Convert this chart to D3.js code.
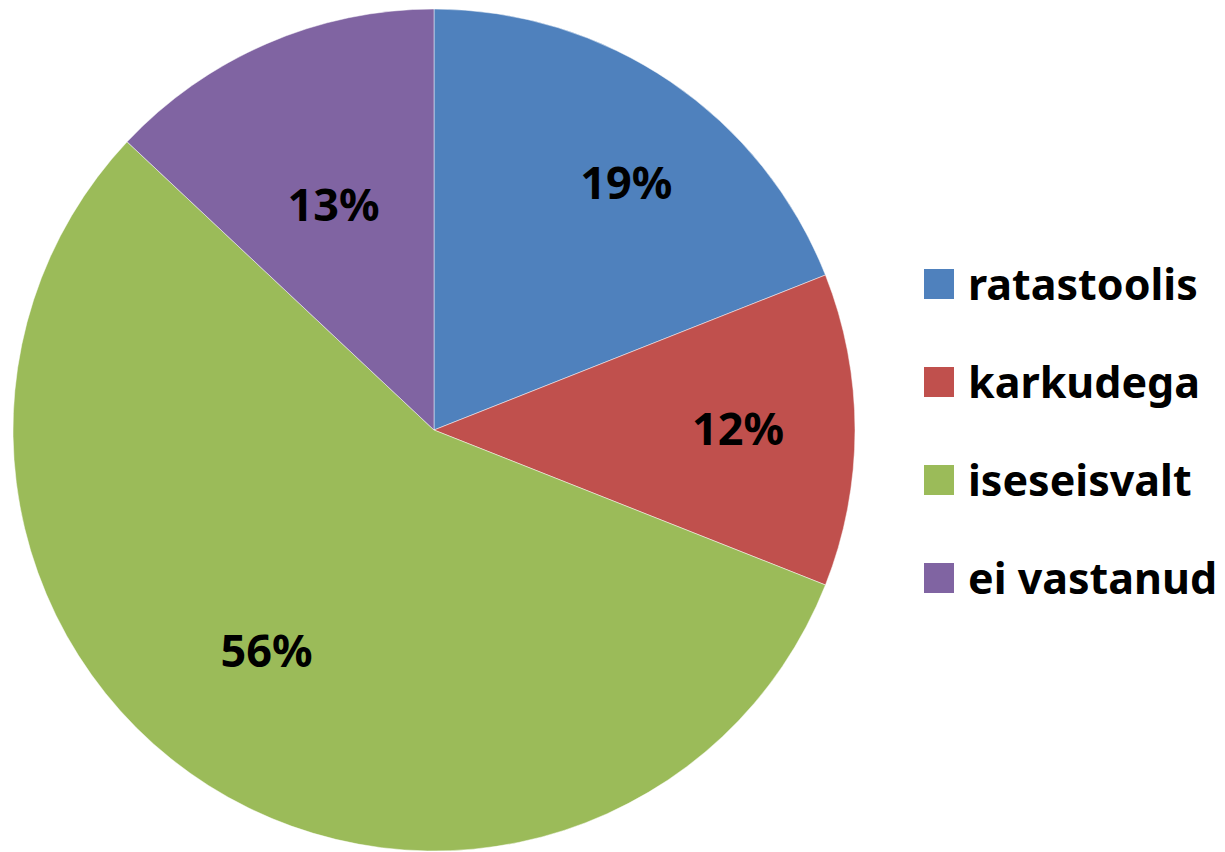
<!DOCTYPE html>
<html lang="et">
<head>
    <meta charset="UTF-8">
    <script src="https://d3js.org/d3.v7.min.js"></script>
    <style>
        body{ margin:0; background:#fff; }
        text{ font-family:"Noto Sans", sans-serif; font-weight:bold; fill:#000; }
    </style>
    <title>Pie</title>
</head>
<body>
    <div class="canvas"></div>
<script>
    // data
    const categories = ['ratastoolis','karkudega','iseseisvalt','ei vastanud'];
    const values = [19, 12, 56, 13];
    const colors = ['#4F81BD','#C0504D','#9BBB59','#8064A2'];

    const width = 1225;
    const height = 852;
    const [cx, cy, R] = [434, 430, 421];
    const fontSize = 45;
    const legendFont = 43;
    // excel "best fit" nudges from the plain centroid
    const labelNudge = [[22,3],[1,-1],[-5,-35],[20,53]];

    const svg = d3.select('.canvas')
                    .append('svg')
                    .attr('width',width)
                    .attr('height',height);

    const rows = categories.map((c,i)=>({name:c, value:values[i], color:colors[i], idx:i}));

    const pie = d3.pie()
                  .value(d=>d.value)
                  .sort(null);
    const arc = d3.arc().innerRadius(0).outerRadius(R);
    const labelArc = d3.arc().innerRadius(R*0.72).outerRadius(R*0.72);

    const graph = svg.append('g')
                     .attr('transform',`translate(${cx},${cy})`);

    const slices = pie(rows);
    graph.selectAll('path')
         .data(slices)
         .enter()
         .append('path')
         .attr('d',arc)
         .attr('fill',d=>d.data.color)
         .attr('stroke','#fff')
         .attr('stroke-width',0.8)
         .attr('stroke-opacity',0.6);

    graph.selectAll('text.lbl')
         .data(slices)
         .enter()
         .append('text')
         .attr('class','lbl')
         .attr('x',d=>labelArc.centroid(d)[0] + labelNudge[d.data.idx][0])
         .attr('y',d=>labelArc.centroid(d)[1] + labelNudge[d.data.idx][1])
         .attr('dy','0.36em')
         .attr('text-anchor','middle')
         .style('font-size',fontSize+'px')
         .text(d=>d.data.value+'%');

    // legend
    const ly = d3.scaleLinear().domain([0,3]).range([284,578]);
    const legend = svg.append('g');
    const items = legend.selectAll('g')
                        .data(rows)
                        .enter()
                        .append('g')
                        .attr('transform',d=>`translate(924,${ly(d.idx)})`);
    items.append('rect')
         .attr('x',0)
         .attr('y',-15)
         .attr('width',30)
         .attr('height',30)
         .attr('fill',d=>d.color);
    items.append('text')
         .attr('x',44)
         .attr('y',16)
         .style('font-size',legendFont+'px')
         .text(d=>d.name);
</script>
</body>
</html>
